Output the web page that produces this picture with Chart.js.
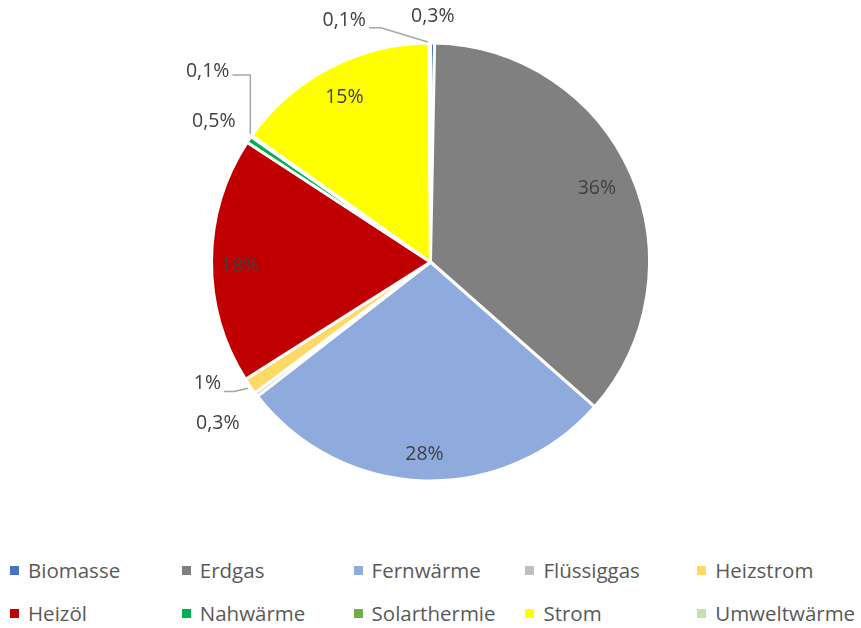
<!DOCTYPE html>
<html>
<head>
<meta charset="utf-8">
<script src="https://cdn.jsdelivr.net/npm/chart.js@4"></script>
<style>
  body { margin: 0; background: #fff; }
  #wrap { position: relative; width: 861px; height: 628px; }
  #box { position: absolute; left: 0; top: 0; width: 861px; height: 524px; }
  #legend { position: absolute; left: 0; top: 556px; width: 861px; font-family: "Open Sans", sans-serif; font-size: 20.5px; color: #595959; }
  .item { position: absolute; white-space: nowrap; line-height: 28px; }
  .item i { position: absolute; left: 0; top: 10px; width: 9px; height: 9px; }
  .item span { position: absolute; left: 18px; top: 0; }
</style>
</head>
<body>
<div id="wrap">
  <div id="box"><canvas id="myChart"></canvas></div>
  <div id="legend"></div>
</div>
<script>
const labels = ['Biomasse', 'Erdgas', 'Fernwärme', 'Flüssiggas', 'Heizstrom',
                'Heizöl', 'Nahwärme', 'Solarthermie', 'Strom', 'Umweltwärme'];
const shares = [0.3, 36.2, 28.0, 0.3, 1.2, 18.2, 0.5, 0.1, 15.1, 0.1];
const colors = ['#4472C4', '#808080', '#8FAADC', '#BFBFBF', '#FFD966',
                '#C00000', '#00B050', '#70AD47', '#FFFF00', '#C5E0B4'];

// label placement: radius factor (of outer radius), angle shift in degrees, leader line
const place = [
  { r: 1.12, da: 0 },
  { r: 0.83, da: 0 },
  { r: 0.88, da: 0 },
  { r: 1.22, da: 0 },
  { r: 1.16, da: 6, leader: true },
  { r: 0.87, da: -1.8 },
  { r: 1.18, da: -1 },
  { r: 1.34, da: 5.5, leader: true, bend: 'up' },
  { r: 0.85, da: 0 },
  { r: 1.17, da: -19.5, leader: true, bend: 'top' }
];

function fmt(v) {
  if (v >= 1) return Math.round(v) + '%';
  return v.toFixed(1).replace('.', ',') + '%';
}

const sliceLabels = {
  id: 'sliceLabels',
  afterDatasetsDraw(chart) {
    const ctx = chart.ctx;
    const arcs = chart.getDatasetMeta(0).data;
    ctx.save();
    ctx.font = '19.5px "Open Sans", sans-serif';
    ctx.fillStyle = '#404040';
    ctx.textAlign = 'center';
    ctx.textBaseline = 'middle';
    arcs.forEach((arc, i) => {
      const p = place[i];
      const mid = (arc.startAngle + arc.endAngle) / 2;
      const a = mid + p.da * Math.PI / 180;
      const R = arc.outerRadius;
      const tx = arc.x + Math.cos(a) * R * p.r;
      const ty = arc.y + Math.sin(a) * R * p.r;
      const txt = fmt(shares[i]);
      if (p.leader) {
        const w = ctx.measureText(txt).width;
        const ex = arc.x + Math.cos(mid) * R;
        const ey = arc.y + Math.sin(mid) * R;
        const sx = tx + w / 2 + 3;
        ctx.strokeStyle = '#A6A6A6';
        ctx.lineWidth = 1.5;
        ctx.beginPath();
        if (p.bend === 'up') {
          ctx.moveTo(sx, ty + 4);
          ctx.lineTo(ex - 1, ty + 4);
          ctx.lineTo(ex - 1, ey - 2);
        } else if (p.bend === 'top') {
          ctx.moveTo(sx, ty + 7);
          ctx.lineTo(sx + 12, ty + 7);
          ctx.lineTo(ex - 2, ey - 1);
        } else {
          ctx.moveTo(sx, ty + 8);
          ctx.lineTo(sx + 10, ty + 8);
          ctx.lineTo(ex - 2, ey + 2);
        }
        ctx.stroke();
      }
      ctx.fillText(txt, tx, ty);
    });
    ctx.restore();
  }
};

const config = {
  type: 'pie',
  data: {
    labels: labels,
    datasets: [{
      data: shares,
      backgroundColor: colors,
      borderColor: '#ffffff',
      borderWidth: 3
    }]
  },
  options: {
    responsive: true,
    maintainAspectRatio: false,
    animation: false,
    radius: 219,
    layout: { padding: 0 },
    plugins: {
      legend: { display: false },
      tooltip: { enabled: false }
    }
  },
  plugins: [sliceLabels]
};

const myChart = new Chart(document.getElementById('myChart'), config);

// legend, 5 columns x 2 rows
const legendEl = document.getElementById('legend');
labels.forEach((name, i) => {
  const d = document.createElement('div');
  d.className = 'item';
  d.style.left = (10 + (i % 5) * 171.8) + 'px';
  d.style.top = (Math.floor(i / 5) * 43) + 'px';
  d.innerHTML = '<i style="background:' + colors[i] + '"></i><span>' + name + '</span>';
  legendEl.appendChild(d);
});
</script>
</body>
</html>
